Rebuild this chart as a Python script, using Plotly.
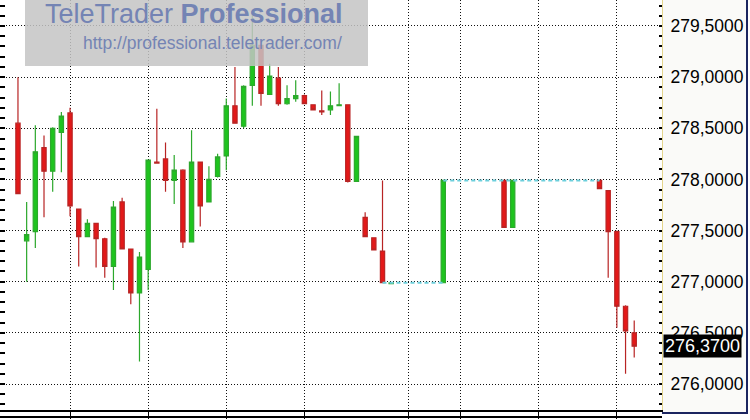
import plotly.graph_objects as go

# ---- data ----
slot = list(range(0, 44)) + [49, 56, 57, 67, 68, 69, 70, 71]
open_ = [278.55, 277.40, 277.49, 278.31, 278.08, 278.46, 278.65, 277.71, 277.44, 277.57,
         277.42, 277.15, 277.78, 277.32, 276.89, 277.12, 278.17, 278.20, 277.99, 278.09,
         277.39, 278.17, 277.78, 278.03, 278.23, 278.72, 278.52, 278.92, 279.31, 278.83,
         278.99, 278.74, 278.79, 278.82, 278.73, 278.67, 278.68, 278.72, 278.73, 277.98,
         277.63, 277.43, 277.30, 276.98,
         276.99, 277.99, 277.53, 277.99, 277.89, 277.49, 276.76, 276.50]
high = [279.00, 277.78, 278.53, 278.43, 278.51, 278.66, 278.70, 277.71, 277.61, 277.57,
        277.43, 277.79, 277.82, 277.32, 277.29, 278.19, 278.69, 278.36, 278.24, 278.10,
        278.48, 278.17, 278.13, 278.25, 278.79, 279.10, 278.92, 279.64, 279.32, 279.13,
        279.10, 278.92, 278.97, 278.83, 278.73, 278.87, 278.86, 278.94, 278.73, 278.42,
        277.68, 277.43, 277.99, 276.99,
        277.99, 277.99, 277.99, 277.99, 277.89, 277.50, 276.77, 276.62]
low = [277.86, 277.00, 277.33, 277.63, 277.88, 278.07, 277.64, 277.15, 277.44, 277.14,
       277.04, 276.92, 277.32, 276.78, 276.22, 276.92, 278.16, 277.88, 277.76, 277.33,
       277.39, 277.54, 277.78, 278.02, 278.09, 278.55, 278.50, 278.72, 278.72, 278.83,
       278.72, 278.73, 278.76, 278.74, 278.68, 278.63, 278.63, 278.72, 277.97, 277.98,
       277.44, 277.31, 276.99, 276.98,
       276.99, 277.53, 277.53, 277.91, 277.04, 276.55, 276.10, 276.26]
close = [277.86, 277.46, 278.27, 278.08, 278.50, 278.62, 277.74, 277.44, 277.57, 277.42,
         277.15, 277.73, 277.32, 276.89, 277.24, 278.19, 278.16, 277.99, 278.09, 277.39,
         278.17, 277.74, 278.00, 278.22, 278.72, 278.55, 278.91, 279.31, 278.84, 279.01,
         278.74, 278.79, 278.82, 278.74, 278.68, 278.66, 278.72, 278.73, 277.98, 278.42,
         277.44, 277.31, 276.99, 276.99,
         277.99, 277.53, 277.99, 277.91, 277.49, 276.76, 276.52, 276.37]

# periods without trades (price carried forward)
idle_from = [42, 49]
idle_to = [49, 67]
idle_price = [276.99, 277.99]

grid_slots = [6, 15, 24, 33, 45, 51, 60, 69]
price_ticks = [276.0, 276.5, 277.0, 277.5, 278.0, 278.5, 279.0, 279.5]
y_range = [275.746, 279.754]
x_range = [-2.07, 74.2]

PLOT_W, PLOT_H = 662, 410

fig = go.Figure()

# idle dashed lines
for a, b, p in zip(idle_from, idle_to, idle_price):
    fig.add_trace(go.Scatter(
        x=[a, b], y=[p, p], mode="lines",
        line=dict(color="#6ccfdc", width=2, dash="4px,3px"),
        hoverinfo="skip", showlegend=False))

fig.add_trace(go.Candlestick(
    x=slot, open=open_, high=high, low=low, close=close,
    increasing=dict(line=dict(color="#2ca82c", width=1.2), fillcolor="#1ec41e"),
    decreasing=dict(line=dict(color="#b82424", width=1.2), fillcolor="#e31919"),
    whiskerwidth=0, showlegend=False))

# invisible companion trace for the left tick axis
fig.add_trace(go.Scatter(x=slot, y=close, yaxis="y2", mode="markers",
                         marker=dict(opacity=0), hoverinfo="skip", showlegend=False))

grid_dash = "1px,2px"
grid_col = "#111111"
fig.update_layout(
    width=750, height=420, autosize=False,
    margin=dict(l=0, r=750 - PLOT_W, t=0, b=420 - PLOT_H),
    paper_bgcolor="white", plot_bgcolor="white",
    separators=",.",
    font=dict(family="Liberation Sans, Arial, sans-serif", color="black"),
    xaxis=dict(range=x_range, tickvals=grid_slots, showticklabels=False,
               ticks="outside", ticklen=7, tickcolor="black", tickwidth=1,
               showgrid=True, gridcolor=grid_col, griddash=grid_dash, gridwidth=1,
               showline=True, linecolor="black", linewidth=2, zeroline=False,
               rangeslider=dict(visible=False), fixedrange=True),
    yaxis=dict(side="right", range=y_range, tickvals=price_ticks, tickformat=".4f",
               showgrid=True, gridcolor=grid_col, griddash=grid_dash, gridwidth=1,
               ticks="inside", ticklen=3, tickwidth=2, tickcolor="black",
               minor=dict(dtick=0.1, ticks="inside", ticklen=3, tickwidth=2,
                          tickcolor="black", showgrid=False),
               showline=True, linecolor="#e4d58c", linewidth=1, zeroline=False,
               ticklabelstandoff=4,
               tickfont=dict(size=17.5, color="black"), fixedrange=True),
    yaxis2=dict(overlaying="y", side="left", range=y_range, tickvals=price_ticks,
                showticklabels=False, showgrid=False, zeroline=False, showline=False,
                ticks="inside", ticklen=5, tickwidth=2, tickcolor="black",
                minor=dict(dtick=0.1, ticks="inside", ticklen=5, tickwidth=2,
                           tickcolor="black", showgrid=False),
                fixedrange=True),
    hovermode=False,
)

px = lambda v: v / PLOT_W
py = lambda v: 1 - v / PLOT_H

shapes = [
    # right label panel background
    dict(type="rect", xref="paper", yref="paper", x0=1, x1=px(747), y0=py(412), y1=1,
         fillcolor="#fafaf8", line=dict(width=0), layer="below"),
    # navy panel border
    dict(type="line", xref="paper", yref="paper", x0=px(747), x1=px(747), y0=py(413), y1=1,
         line=dict(color="#1b2560", width=2)),
    dict(type="line", xref="paper", yref="paper", x0=1, x1=px(748), y0=py(413), y1=py(413),
         line=dict(color="#1b2560", width=2)),
    # second line under the time axis
    dict(type="line", xref="paper", yref="paper", x0=0, x1=1, y0=py(417), y1=py(417),
         line=dict(color="black", width=2)),
    # watermark box
    dict(type="rect", xref="paper", yref="paper", x0=px(25), x1=px(368), y0=py(66), y1=1,
         fillcolor="rgba(196,196,196,0.85)", line=dict(width=0), layer="above"),
]
fig.update_layout(shapes=shapes)

last_label = f"{close[-1]:.4f}".replace(".", ",")
fig.update_layout(annotations=[
    dict(text="TeleTrader <b>Professional</b>", xref="paper", yref="paper",
         x=px(194), y=py(14), xanchor="center", yanchor="middle", showarrow=False,
         font=dict(size=27, color="#7484b4")),
    dict(text="http://professional.teletrader.com/", xref="paper", yref="paper",
         x=px(212), y=py(43), xanchor="center", yanchor="middle", showarrow=False,
         font=dict(size=17.5, color="#7484b4")),
    dict(text=last_label, xref="paper", yref="y", x=1, y=close[-1],
         xanchor="left", yanchor="middle", showarrow=False, xshift=1,
         bgcolor="black", borderpad=1, font=dict(size=18, color="white")),
])

fig.write_html("out.html", config={"displayModeBar": False, "staticPlot": True},
               post_script="document.body.style.margin='0';document.body.style.padding='0';")
